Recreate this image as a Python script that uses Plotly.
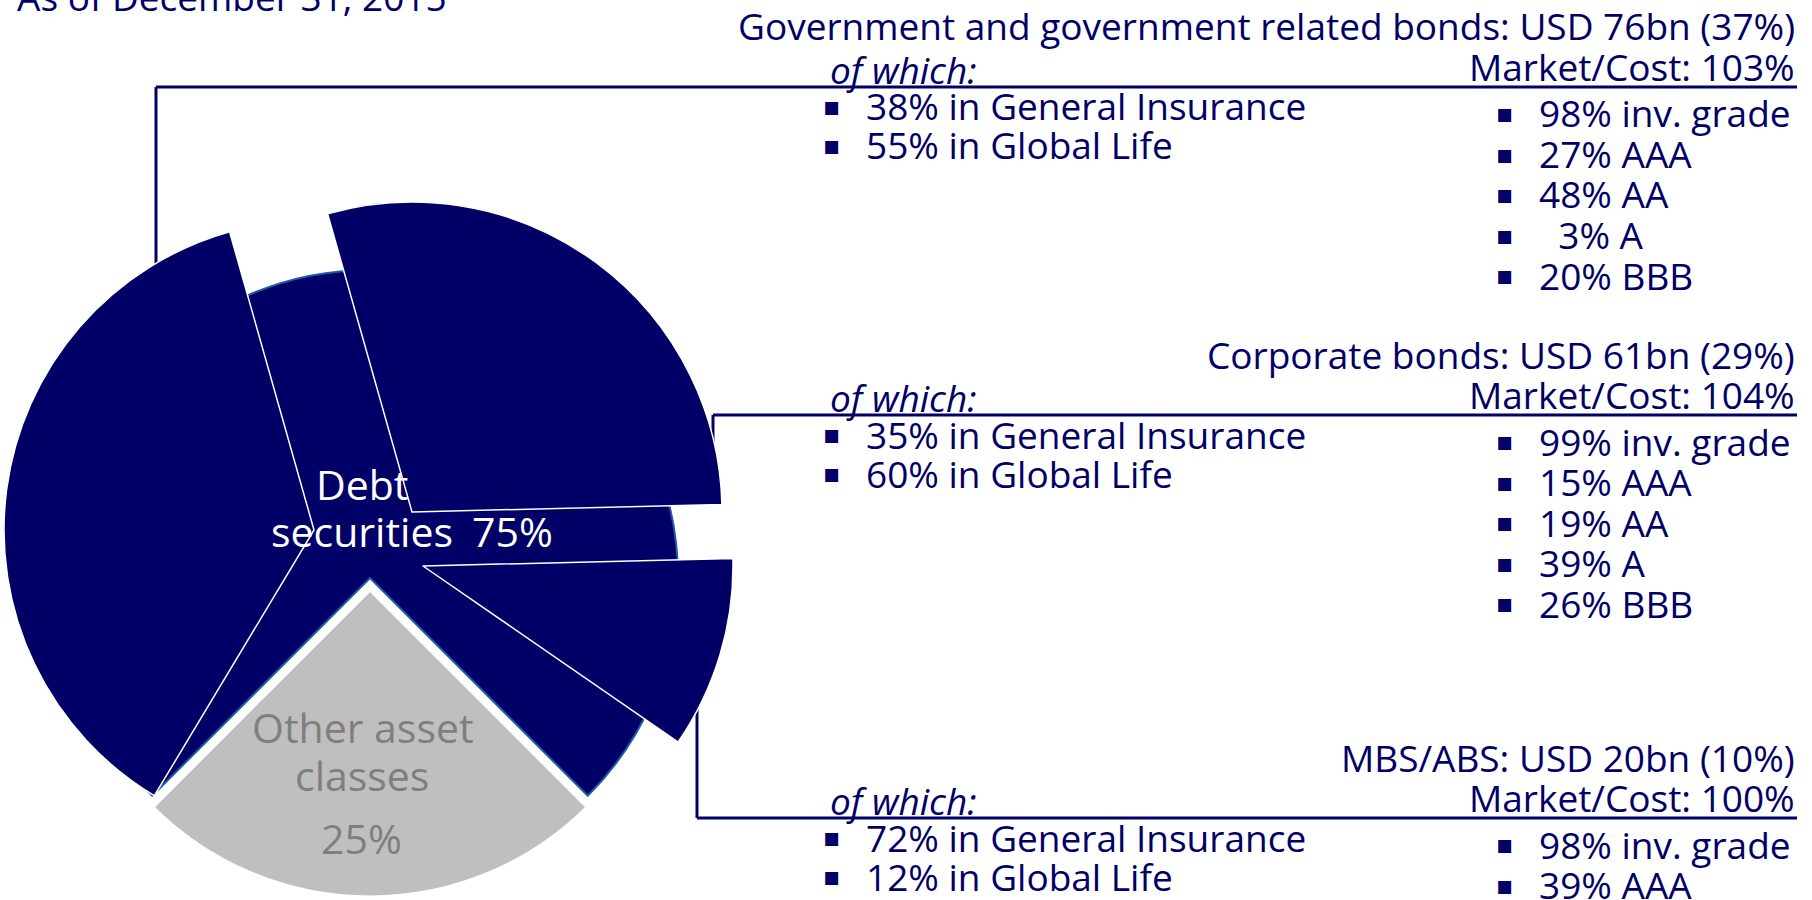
import plotly.graph_objects as go

W, H = 1812, 900

# ---- data ----
asset_classes = ["Debt securities", "Other asset classes"]
asset_share_pct = [75, 25]

debt_segments = ["Government and government related bonds", "Corporate bonds", "MBS/ABS"]
debt_usd_bn = [76, 61, 20]
debt_share_pct = [37, 29, 10]
market_to_cost_pct = [103, 104, 100]
general_insurance_pct = [38, 35, 72]
global_life_pct = [55, 60, 12]

rating_labels = ["inv. grade", "AAA", "AA", "A", "BBB"]
gov_ratings_pct = [98, 27, 48, 3, 20]
corp_ratings_pct = [99, 15, 19, 39, 26]
mbs_ratings_pct = [98, 39]

title_text = "As of December 31, 2015"

# ---- styling ----
NAVY = "#000066"
GREY = "#BFBFBF"
GREY_TEXT = "#7F7F7F"
EDGE_BLUE = "#1F5AA6"
CLEAR = "rgba(0,0,0,0)"
FONT = "Open Sans, DejaVu Sans, sans-serif"
TXT = 37
PIE_TXT = 41


def px(x):
    return x / W


def py(y):
    return 1 - y / H


def domain(cx, cy, half):
    return dict(x=[(cx - half) / W, (cx + half) / W],
                y=[1 - (cy + half) / H, 1 - (cy - half) / H])


# pie geometry (pixels)
PIE_CX, PIE_CY, PIE_R = 370, 578, 308
GREY_R, GREY_SHIFT = 307, 12
SLICE_R = 310
SLICE_CENTRES = [(314, 530), (412, 512), (423, 566)]
SUB_START = 211  # degrees clockwise from 12 o'clock

deg_per_pct = 360 / sum(asset_share_pct)
other_deg = asset_share_pct[1] * deg_per_pct
debt_start = 180 + other_deg / 2  # keeps "other" centred at the bottom

fig = go.Figure()

# whole debt block underneath
fig.add_trace(go.Pie(
    values=asset_share_pct, labels=asset_classes, sort=False,
    direction="clockwise", rotation=debt_start,
    marker=dict(colors=[NAVY, CLEAR], line=dict(color=[EDGE_BLUE, CLEAR], width=[2, 0])),
    textinfo="none", hoverinfo="label+percent", showlegend=False,
    domain=domain(PIE_CX, PIE_CY, PIE_R),
))

# exploded debt segments
start = SUB_START
for name, pct, (cx, cy) in zip(debt_segments, debt_share_pct, SLICE_CENTRES):
    fig.add_trace(go.Pie(
        values=[pct, sum(asset_share_pct) - pct], labels=[name, ""], sort=False,
        direction="clockwise", rotation=start,
        marker=dict(colors=[NAVY, CLEAR], line=dict(color=["white", CLEAR], width=[1.5, 0])),
        textinfo="none", hoverinfo="label", showlegend=False,
        domain=domain(cx, cy, SLICE_R),
    ))
    start += pct * deg_per_pct

# other asset classes, pulled slightly away
pull = GREY_SHIFT / GREY_R
fig.add_trace(go.Pie(
    values=asset_share_pct, labels=asset_classes, sort=False,
    direction="clockwise", rotation=debt_start, pull=[0, pull],
    marker=dict(colors=[CLEAR, GREY], line=dict(color=[CLEAR, "white"], width=[0, 3])),
    textinfo="none", hoverinfo="label+percent", showlegend=False,
    domain=domain(PIE_CX, PIE_CY, GREY_R * (1 + pull)),
))

annotations = []


def text(x, y, s, anchor="left", size=TXT, color=NAVY, family=FONT):
    annotations.append(dict(
        x=px(x), y=py(y), xref="paper", yref="paper", text=s, showarrow=False,
        xanchor=anchor, yanchor="middle",
        font=dict(family=family, size=size, color=color),
    ))


shapes = []


def line(x0, y0, x1, y1):
    shapes.append(dict(type="line", xref="paper", yref="paper",
                       x0=px(x0), y0=py(y0), x1=px(x1), y1=py(y1),
                       line=dict(color=NAVY, width=3), layer="below"))


text(15, -3, title_text)

# labels inside the pie
debt_words = asset_classes[0].split()
text(362, 484, debt_words[0], "center", PIE_TXT, "white")
text(362, 531, debt_words[1], "center", PIE_TXT, "white")
text(470, 531, f"{asset_share_pct[0]}%", "left", PIE_TXT, "white")
other_words = asset_classes[1].split()
text(363, 727, " ".join(other_words[:2]), "center", PIE_TXT, GREY_TEXT)
text(362, 775, other_words[2], "center", PIE_TXT, GREY_TEXT)
text(361, 838, f"{asset_share_pct[1]}%", "center", PIE_TXT, GREY_TEXT)

# segment call-outs
RIGHT = 1797
LEFT_COL, LEFT_TXT = 832, 864
RIGHT_COL, RIGHT_TXT = 1505, 1537
rule_y = [87, 415, 818]
connectors = [[(156, 330), (156, 87)], [(713, 470), (713, 415)], [(697, 690), (697, 818)]]
ratings = [gov_ratings_pct, corp_ratings_pct, mbs_ratings_pct]

for i, name in enumerate(debt_segments):
    ry = rule_y[i]
    text(RIGHT, ry - 61, f"{name}: USD {debt_usd_bn[i]}bn ({debt_share_pct[i]}%)", "right")
    text(RIGHT, ry - 21, f"Market/Cost: {market_to_cost_pct[i]}%", "right")
    text(828, ry - 18, "<i>of which:</i>")
    (ax, ay), (bx, by) = connectors[i]
    line(ax, ay, bx, by)
    line(bx, ry, RIGHT, ry)
    left_items = [f"{general_insurance_pct[i]}% in General Insurance",
                  f"{global_life_pct[i]}% in Global Life"]
    for k, s in enumerate(left_items):
        y = ry + 19 + 39 * k
        text(LEFT_COL, y, "\u25aa", "center", 26, NAVY, "DejaVu Sans")
        text(LEFT_TXT, y, s)
    for k, v in enumerate(ratings[i]):
        y = ry + 26 + 40.5 * k
        pad = "\u00a0\u00a0" if v < 10 else ""
        text(RIGHT_COL, y, "\u25aa", "center", 26, NAVY, "DejaVu Sans")
        text(RIGHT_TXT, y, f"{pad}{v}% {rating_labels[k]}")

fig.update_layout(
    width=W, height=H, margin=dict(l=0, r=0, t=0, b=0),
    paper_bgcolor="white", plot_bgcolor="white",
    annotations=annotations, shapes=shapes, showlegend=False,
)

fig.write_html("out.html")
